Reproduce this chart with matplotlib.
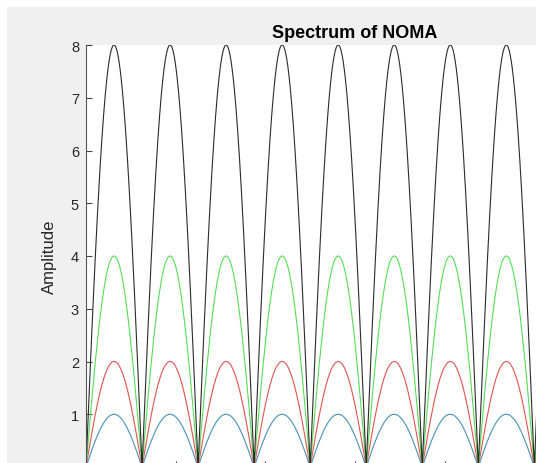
import numpy as np
import matplotlib
matplotlib.use('Agg')
import matplotlib.pyplot as plt
from matplotlib.patches import Rectangle

plt.rcParams['font.family'] = ['Liberation Sans', 'DejaVu Sans']

# values
amplitudes = [8, 4, 2, 1]
colors = ['#2b2b2b', '#55dd55', '#e25252', '#4a90b8']
lobe_period = 0.625          # distance between zeros, x units
x_max = 6.0
yticks = [0, 1, 2, 3, 4, 5, 6, 7, 8]

W, H = 536, 464
fig = plt.figure(figsize=(W/100, H/100), dpi=100, facecolor='white')
# matlab grey figure area, with a thin white margin top/left
fig.patches.append(Rectangle((7/W, 0), 1, 1 - 8/H, transform=fig.transFigure,
                             facecolor='#f0f0f0', edgecolor='none', zorder=-10))

ax = fig.add_axes([86/W, (H - 468)/H, 538/W, 422/H])
ax.set_facecolor('white')

x = np.linspace(0, x_max, 4000)
for a, c in zip(amplitudes[::-1], colors[::-1]):
    ax.plot(x, a*np.abs(np.sin(np.pi*x/lobe_period)), color=c, lw=0.8)

ax.set_xlim(0, x_max)
ax.set_ylim(0, 8)
ax.set_yticks(yticks)
ax.set_xticks(np.arange(0, 7))
ax.tick_params(direction='in', length=4, width=0.8, colors='#444444',
               labelsize=10.5, labelcolor='#262626', pad=5)
for s in ['top', 'right']:
    ax.spines[s].set_visible(False)
for s in ['left', 'bottom']:
    ax.spines[s].set_color('#555555')
    ax.spines[s].set_linewidth(0.8)

ax.set_ylabel('Amplitude', fontsize=12, color='#262626', labelpad=10)
ax.set_title('Spectrum of NOMA', fontsize=13, fontweight='bold', pad=6)

fig.savefig('out.png', dpi=100, facecolor=fig.get_facecolor())
